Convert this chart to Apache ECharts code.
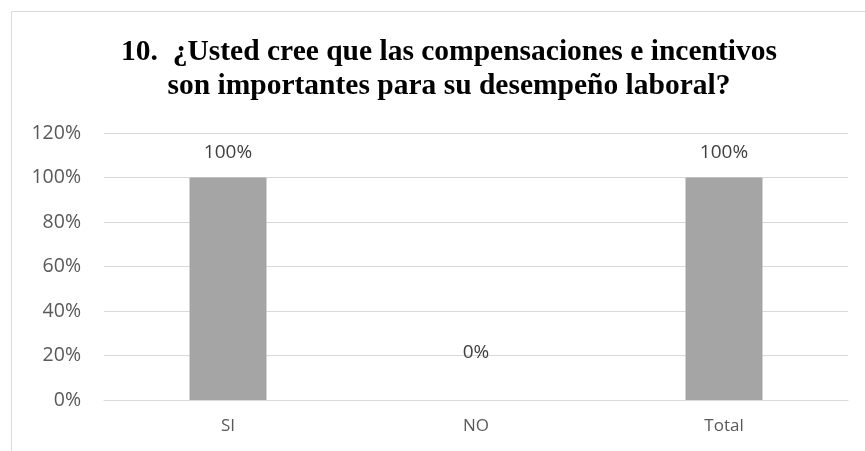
<!DOCTYPE html>
<html><head><meta charset="utf-8">
<script src="https://cdn.jsdelivr.net/npm/echarts@6/dist/echarts.min.js"></script>
<style>html,body{margin:0;padding:0;background:#fff}#c{width:865px;height:451px}</style>
</head><body><div id="c"></div>
<script>
const categories = ['SI', 'NO', 'Total'];
const values = [1.0, 0.0, 1.0];
const titleLines = ['10.  ¿Usted cree que las compensaciones e incentivos', 'son importantes para su desempeño laboral?'];

const chart = echarts.init(document.getElementById('c'));
chart.setOption({
  animation: false,
  graphic: [{
    type: 'rect', shape: {x: 11.5, y: 11.5, width: 1000, height: 1000},
    style: {fill: 'none', stroke: '#d9d9d9', lineWidth: 1}, z: -1
  }],
  title: {
    text: titleLines.join('\n'), left: 444, top: 30, textAlign: 'center',
    textStyle: {fontFamily: 'Liberation Serif', fontWeight: 'bold', fontSize: 29.5, color: '#000', lineHeight: 34}
  },
  grid: {left: 104, right: 17, top: 133, bottom: 51},
  xAxis: {
    type: 'category', data: categories,
    axisLine: {lineStyle: {color: '#d9d9d9'}}, axisTick: {show: false},
    axisLabel: {color: '#595959', fontSize: 17, fontFamily: 'Open Sans', margin: 18}
  },
  yAxis: {
    type: 'value', min: 0, max: 1.2, interval: 0.2,
    axisLine: {show: false}, axisTick: {show: false},
    splitLine: {lineStyle: {color: '#d9d9d9'}},
    axisLabel: {color: '#595959', fontSize: 19.5, fontFamily: 'Open Sans', margin: 23,
      formatter: v => Math.round(v * 100) + '%'}
  },
  series: [{
    type: 'bar', barWidth: 77,
    itemStyle: {color: '#a5a5a5'},
    label: {show: true, position: 'top', distance: 15, color: '#404040', fontSize: 19, fontFamily: 'Open Sans',
      formatter: p => Math.round(p.value * 100) + '%'},
    data: values.map(v => v === 0 ? {value: v, label: {offset: [0, -23]}} : v)
  }]
});
</script></body></html>
